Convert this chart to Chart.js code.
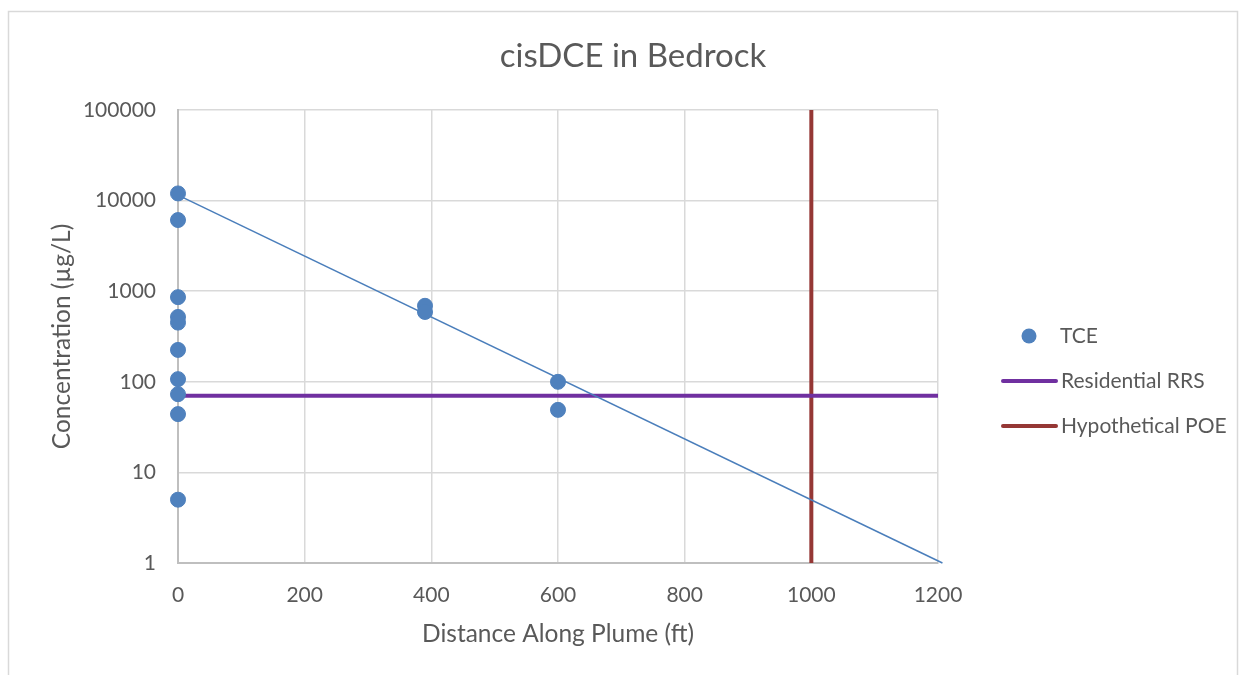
<!DOCTYPE html>
<html>
<head>
<meta charset="utf-8">
<script src="https://cdn.jsdelivr.net/npm/chart.js@4.4.1/dist/chart.umd.min.js"></script>
<style>
  body { margin: 0; background: #fff; }
</style>
</head>
<body>
<canvas id="mycanvas" width="1246" height="675"></canvas>
<script>
// data
var tceX = [0, 0, 0, 0, 0, 0, 0, 0, 0, 0, 390, 390, 600, 600];
var tceY = [12000, 6100, 860, 520, 450, 225, 107, 73, 44, 5, 690, 590, 100, 49];
var trendX = [0, 1207];
var trendY = [11500, 1];
var rrsX = [0, 1200];
var rrsY = [70, 70];
var poeX = [1000, 1000];
var poeY = [1, 100000];
var yTicks = [1, 10, 100, 1000, 10000, 100000];
var legendLabels = ['TCE', 'Residential RRS', 'Hypothetical POE'];
var chartTitle = 'cisDCE in Bedrock';

var textColor = '#595959';
var font = 'Lato, "Open Sans", sans-serif';

function toPoints(xs, ys) {
  var out = [];
  for (var i in xs) out.push({x: xs[i], y: ys[i]});
  return out;
}

var frame = {
  id: 'frame',
  beforeDraw: function(chart) {
    var c = chart.ctx;
    c.save();
    c.fillStyle = '#fff';
    c.fillRect(0, 0, chart.width, chart.height);
    c.strokeStyle = '#d9d9d9';
    c.lineWidth = 1.5;
    c.strokeRect(8.5, 11.5, chart.width - 17, chart.height);
    c.restore();
  },
  afterDraw: function(chart) {
    var c = chart.ctx;
    c.save();
    // title
    c.font = '33px ' + font;
    c.fillStyle = textColor;
    c.textAlign = 'center';
    c.textBaseline = 'middle';
    c.fillText(chartTitle, 633, 56);
    // legend
    c.textAlign = 'left';
    c.font = '21px ' + font;
    c.beginPath();
    c.arc(1029, 336, 7.5, 0, Math.PI * 2);
    c.fillStyle = '#4f81bd';
    c.fill();
    c.fillStyle = textColor;
    c.fillText(legendLabels[0], 1060, 336);
    var cols = ['#7030a0', '#953735'];
    var ys = [381, 426];
    for (var i = 0; i < 2; i++) {
      c.beginPath();
      c.lineCap = 'round';
      c.lineWidth = 4;
      c.strokeStyle = cols[i];
      c.moveTo(1003, ys[i]);
      c.lineTo(1056, ys[i]);
      c.stroke();
      c.fillText(legendLabels[i + 1], 1061, ys[i]);
    }
    c.restore();
  }
};

var ctx = document.getElementById('mycanvas');
var chart = new Chart(ctx, {
  type: 'scatter',
  data: {
    datasets: [
      {
        label: legendLabels[0],
        data: toPoints(tceX, tceY),
        backgroundColor: '#4f81bd',
        borderColor: '#4f81bd',
        pointRadius: 7.5,
        pointHoverRadius: 7.5,
        clip: false,
        order: 0
      },
      {
        label: 'trend',
        type: 'line',
        data: toPoints(trendX, trendY),
        borderColor: '#4a7ebb',
        borderWidth: 1.5,
        pointRadius: 0,
        clip: false,
        order: 1
      },
      {
        label: legendLabels[1],
        type: 'line',
        data: toPoints(rrsX, rrsY),
        borderColor: '#7030a0',
        borderWidth: 4,
        pointRadius: 0,
        order: 2
      },
      {
        label: legendLabels[2],
        type: 'line',
        data: toPoints(poeX, poeY),
        borderColor: '#953735',
        borderWidth: 4,
        pointRadius: 0,
        order: 3
      }
    ]
  },
  options: {
    responsive: false,
    animation: false,
    layout: { padding: { top: 110, right: 308, left: 0, bottom: 0 } },
    plugins: {
      legend: { display: false },
      tooltip: { enabled: false },
      title: { display: false }
    },
    scales: {
      x: {
        type: 'linear',
        min: 0,
        max: 1200,
        ticks: {
          stepSize: 200,
          color: textColor,
          font: { family: font, size: 21 },
          padding: 20,
          callback: function(v) { return String(v); }
        },
        grid: { color: '#d9d9d9', lineWidth: 1.5, drawTicks: false },
        border: { color: '#bfbfbf', width: 2 },
        title: {
          display: true,
          text: 'Distance Along Plume (ft)',
          color: textColor,
          font: { family: font, size: 24.5 },
          padding: { top: 0, bottom: 26 }
        },
        afterFit: function(s) { s.height = 112; }
      },
      y: {
        type: 'logarithmic',
        min: 1,
        max: 100000,
        afterBuildTicks: function(s) {
          s.ticks = yTicks.map(function(v) { return {value: v}; });
        },
        ticks: {
          color: textColor,
          font: { family: font, size: 21 },
          padding: 22,
          callback: function(v) { return String(v); }
        },
        grid: { color: '#d9d9d9', lineWidth: 1.5, drawTicks: false },
        border: { color: '#bfbfbf', width: 2 },
        title: {
          display: true,
          text: 'Concentration (µg/L)',
          color: textColor,
          font: { family: font, size: 24.5 },
          padding: { top: 47, bottom: 0 }
        },
        afterFit: function(s) { s.width = 178; }
      }
    }
  },
  plugins: [frame]
});
</script>
</body>
</html>
